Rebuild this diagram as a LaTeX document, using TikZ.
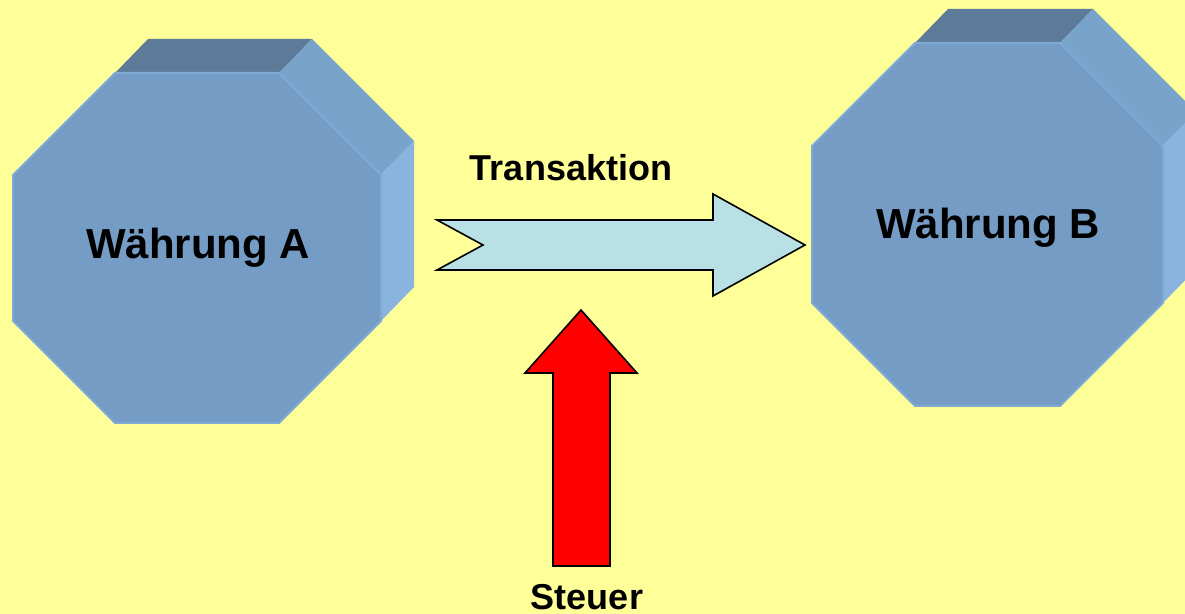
\documentclass[tikz,border=0pt]{standalone}
\usepackage{fontspec}
\setmainfont{Liberation Sans}
\usetikzlibrary{calc}

\definecolor{hintergrund}{RGB}{255,255,153}
\definecolor{vorne}{RGB}{117,156,196}
\definecolor{oben}{RGB}{93,122,152}
\definecolor{schraeg}{RGB}{120,163,203}
\definecolor{seite}{RGB}{137,180,224}
\definecolor{kante}{RGB}{128,170,214}
\definecolor{pfeilblau}{RGB}{185,224,229}

% octagon with depth: left x, top y, right x, bottom y, corner
\newcommand{\prisma}[5]{%
  \def\xl{#1}\def\yt{#2}\def\xr{#3}\def\yb{#4}\def\ec{#5}
  % top face
  \fill[oben] (\xl+\ec,\yt) -- (\xl+\ec+\dx,\yt+\dy) -- (\xr-\ec+\dx,\yt+\dy) -- (\xr-\ec,\yt) -- cycle;
  % slanted face
  \fill[schraeg] (\xr-\ec,\yt) -- (\xr-\ec+\dx,\yt+\dy) -- (\xr+\dx,\yt+\ec+\dy) -- (\xr,\yt+\ec) -- cycle;
  % side face
  \fill[seite] (\xr,\yt+\ec) -- (\xr+\dx,\yt+\ec+\dy) -- (\xr+\dx,\yb-\ec+\dy) -- (\xr,\yb-\ec) -- cycle;
  % front face
  \filldraw[fill=vorne, draw=kante, line width=1pt]
    (\xl+\ec,\yt) -- (\xr-\ec,\yt) -- (\xr,\yt+\ec) -- (\xr,\yb-\ec)
    -- (\xr-\ec,\yb) -- (\xl+\ec,\yb) -- (\xl,\yb-\ec) -- (\xl,\yt+\ec) -- cycle;
}

\begin{document}
\begin{tikzpicture}[x=0.5pt, y=-0.5pt,
  waehrung/.style={font=\fontsize{21}{25}\selectfont\bfseries},
  beschriftung/.style={font=\fontsize{18}{22}\selectfont\bfseries},
  blockpfeil/.style={draw=black, line width=0.8pt, line join=miter}]

\def \dx {33}
\def \dy {-34}

% background
\useasboundingbox (0,0) rectangle (1185,614);
\fill[hintergrund] (0,0) rectangle (1185,614);
\clip (0,0) rectangle (1185,614);

% currencies
\prisma{13}{73}{381}{423}{102}
\prisma{812}{43}{1163}{406}{103}
\node[waehrung] (wA) at (198,248) {Währung A};
\node[waehrung] (wB) at (988,228) {Währung B};

% transaction arrow
\coordinate (tA) at (437,245);
\coordinate (tB) at (805,245);
\filldraw[blockpfeil, fill=pfeilblau]
  ($(tA)+(0,-25)$) -- ($(tA)+(46,0)$) -- ($(tA)+(0,25)$)
  -- ($(tB)+(-92,25)$) -- ($(tB)+(-92,51)$) -- (tB)
  -- ($(tB)+(-92,-51)$) -- ($(tB)+(-92,-25)$) -- cycle;
\node[beschriftung] (trans) at (571,168) {Transaktion};

% tax arrow
\coordinate (sA) at (581,566);
\coordinate (sB) at (581,310);
\filldraw[blockpfeil, fill=red]
  ($(sA)+(-28,0)$) -- ($(sB)+(-28,63)$) -- ($(sB)+(-56,63)$) -- (sB)
  -- ($(sB)+(56,63)$) -- ($(sB)+(29,63)$) -- ($(sA)+(29,0)$) -- cycle;
\node[beschriftung] (steuer) at (587,597) {Steuer};

\end{tikzpicture}
\end{document}
